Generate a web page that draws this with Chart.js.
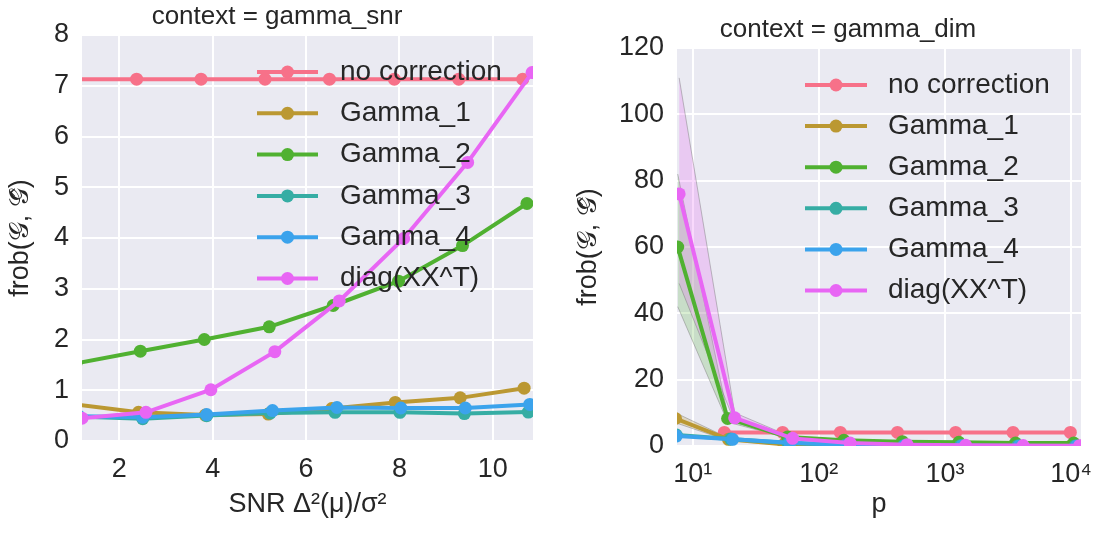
<!DOCTYPE html>
<html>
<head>
<meta charset="utf-8">
<script src="https://cdn.jsdelivr.net/npm/chart.js@4.4.1/dist/chart.umd.min.js"></script>
<style>
  html, body { margin: 0; padding: 0; background: #fff; overflow: hidden; width: 1095px; height: 533px; }
  .panel { position: absolute; top: 0; height: 533px; }
  #leftPanel { left: 0; width: 555px; }
  #rightPanel { left: 560px; width: 575px; }
</style>
</head>
<body>
<div class="panel" id="leftPanel"><canvas id="snrChart"></canvas></div>
<div class="panel" id="rightPanel"><canvas id="dimChart"></canvas></div>
<script>
const seriesNames = ['no correction', 'Gamma_1', 'Gamma_2', 'Gamma_3', 'Gamma_4', 'diag(XX^T)'];
const seriesColors = ['#f77189', '#bb9832', '#50b131', '#36ada4', '#3ba3ec', '#e866f4'];

// context = gamma_snr  (x = SNR, one row per series)
const snrX = [
  [1.00, 2.37, 3.75, 5.12, 6.50, 7.89, 9.27, 10.64],
  [1.05, 2.41, 3.84, 5.19, 6.55, 7.91, 9.30, 10.67],
  [1.07, 2.45, 3.82, 5.21, 6.58, 7.98, 9.35, 10.73],
  [1.12, 2.50, 3.87, 5.23, 6.62, 8.01, 9.39, 10.76],
  [1.13, 2.50, 3.87, 5.28, 6.66, 8.03, 9.41, 10.79],
  [1.20, 2.57, 3.96, 5.33, 6.71, 8.09, 9.46, 10.84]
];
const snrY = [
  [7.13, 7.13, 7.13, 7.13, 7.13, 7.13, 7.13, 7.13],
  [0.72, 0.565, 0.51, 0.53, 0.64, 0.76, 0.85, 1.04],
  [1.53, 1.77, 2.00, 2.25, 2.67, 3.15, 3.85, 4.68],
  [0.48, 0.44, 0.50, 0.55, 0.565, 0.565, 0.54, 0.57],
  [0.49, 0.47, 0.52, 0.60, 0.66, 0.65, 0.65, 0.72],
  [0.45, 0.565, 1.01, 1.76, 2.76, 3.99, 5.49, 7.26]
];
const snrTicksX = [2, 4, 6, 8, 10];
const snrTicksY = [0, 1, 2, 3, 4, 5, 6, 7, 8];

// context = gamma_dim  (x = p, log scale)
const dimX = [
  [17.8, 51.6, 148, 420, 1216, 3470, 9880],
  [7.3, 19.2, 53, 150, 430, 1240, 3500, 10000],
  [7.6, 18.9, 56.5, 158, 460, 1290, 3630, 10500],
  [7.4, 20.0, 57, 162, 470, 1330, 3780, 10800],
  [7.4, 20.7, 59, 168, 480, 1370, 3900, 11100],
  [7.8, 21.5, 61.9, 177, 501, 1460, 4170, 11700]
];
const dimY = [
  [4.1, 4.1, 4.1, 4.1, 4.1, 4.1, 4.1],
  [8.3, 2.0, 0.5, 0.2, 0.1, 0.05, 0.03, 0.02],
  [60, 8.3, 2.7, 1.7, 1.3, 1.1, 0.9, 0.9],
  [3.3, 2.1, 0.9, 0.3, 0.1, 0.05, 0.03, 0.02],
  [3.0, 2.0, 1.0, 0.3, 0.1, 0.05, 0.03, 0.02],
  [76, 8.5, 2.3, 0.9, 0.4, 0.2, 0.15, 0.1]
];
// confidence bands (only visible at small p)
const dimBandSeries = [5, 2, 1];
const dimBandLow = [
  [49, 7.2, 2.0],
  [42, 7.2, 2.4],
  [7.0, 1.6, 0.3]
];
const dimBandHigh = [
  [111, 10.0, 2.6],
  [82, 9.5, 3.0],
  [10.0, 2.4, 0.7]
];
const dimTicksX = [10, 100, 1000, 10000];
const dimTicksY = [0, 20, 40, 60, 80, 100, 120];

const FONT = "'Liberation Sans', Arial, sans-serif";
const TEXT = '#262626';
const bandFills = {
  5: 'rgba(232, 102, 244, 0.25)',
  2: 'rgba(80, 177, 49, 0.22)',
  1: 'rgba(187, 152, 50, 0.25)'
};

const plotBg = {
  id: 'plotBg',
  beforeDraw(chart) {
    const { ctx, chartArea: a } = chart;
    ctx.save();
    ctx.fillStyle = '#eaeaf2';
    ctx.fillRect(a.left, a.top, a.width, a.height);
    ctx.restore();
  }
};

// facet title, placed like the seaborn one (not centred on the canvas)
const panelTitle = {
  id: 'panelTitle',
  afterDraw(chart, args, opts) {
    const ctx = chart.ctx;
    ctx.save();
    ctx.fillStyle = TEXT;
    ctx.font = '26px ' + FONT;
    ctx.textAlign = 'center';
    ctx.textBaseline = 'middle';
    ctx.fillText(opts.text, opts.x, opts.y);
    ctx.restore();
  }
};

// legend drawn inside the plot, matplotlib style (line + marker handle)
const inlineLegend = {
  id: 'inlineLegend',
  afterDatasetsDraw(chart, args, opts) {
    const ctx = chart.ctx;
    ctx.save();
    let row = 0;
    chart.data.datasets.forEach(ds => {
      if (!ds.inLegend) return;
      const y = opts.top + row * opts.step;
      ctx.strokeStyle = ds.borderColor;
      ctx.lineWidth = 4;
      ctx.beginPath();
      ctx.moveTo(opts.x0, y);
      ctx.lineTo(opts.x1, y);
      ctx.stroke();
      ctx.fillStyle = ds.borderColor;
      ctx.beginPath();
      ctx.arc((opts.x0 + opts.x1) / 2, y, 6.5, 0, Math.PI * 2);
      ctx.fill();
      ctx.fillStyle = TEXT;
      ctx.font = '28px ' + FONT;
      ctx.textBaseline = 'middle';
      ctx.textAlign = 'left';
      ctx.fillText(ds.label, opts.textX, y);
      row++;
    });
    ctx.restore();
  }
};

function lineSets(xs, ys) {
  return seriesNames.map((name, i) => ({
    label: name,
    inLegend: true,
    data: xs[i].map((x, j) => ({ x: x, y: ys[i][j] })),
    borderColor: seriesColors[i],
    backgroundColor: seriesColors[i],
    borderWidth: 4,
    pointRadius: 6.5,
    pointHoverRadius: 6.5,
    pointBorderWidth: 0,
    fill: false,
    clip: 0,
    order: seriesNames.length - i
  }));
}

function bandSets() {
  const out = [];
  dimBandSeries.forEach((s, k) => {
    const xs = dimX[s].slice(0, 3);
    out.push({
      data: xs.map((x, j) => ({ x: x, y: dimBandLow[k][j] })),
      borderColor: 'rgba(120, 120, 120, 0.45)',
      borderWidth: 1, pointRadius: 0, fill: false, clip: 0, order: 20
    });
    out.push({
      data: xs.map((x, j) => ({ x: x, y: dimBandHigh[k][j] })),
      borderColor: 'rgba(120, 120, 120, 0.45)',
      backgroundColor: bandFills[s],
      borderWidth: 1, pointRadius: 0, fill: '-1', clip: 0, order: 20
    });
  });
  return out;
}

function axisTitle(text, pad) {
  return { display: true, text: text, color: TEXT, font: { family: FONT, size: 27 }, padding: pad };
}

function baseOptions(cfg) {
  return {
    responsive: true,
    maintainAspectRatio: false,
    animation: false,
    events: [],
    layout: { padding: { left: 0, right: cfg.padRight, top: cfg.padTop, bottom: 0 } },
    plugins: {
      legend: { display: false },
      tooltip: { enabled: false },
      title: { display: false },
      panelTitle: cfg.title,
      inlineLegend: cfg.legend
    },
    scales: {
      x: cfg.x,
      y: {
        type: 'linear',
        min: cfg.yTicks[0],
        max: cfg.yTicks[cfg.yTicks.length - 1],
        border: { display: false },
        grid: { color: '#ffffff', lineWidth: 2, drawTicks: false },
        ticks: { padding: 13, color: TEXT, font: { family: FONT, size: 27 } },
        afterBuildTicks(scale) { scale.ticks = cfg.yTicks.map(v => ({ value: v })); },
        title: axisTitle('frob(𝒢, 𝒢̂)', { top: cfg.yTitlePad, bottom: 0 }),
        afterFit(scale) { scale.width = cfg.yWidth; }
      }
    }
  };
}

new Chart(document.getElementById('snrChart'), {
  type: 'line',
  data: { datasets: lineSets(snrX, snrY) },
  options: baseOptions({
    title: { text: 'context = gamma_snr', x: 277, y: 17 },
    padTop: 35,
    padRight: 22,
    yTicks: snrTicksY,
    yWidth: 82,
    yTitlePad: 4,
    legend: { x0: 257, x1: 318, textX: 340, top: 72, step: 41.3 },
    x: {
      type: 'linear', min: 1.2, max: 10.86,
      border: { display: false },
      grid: { color: '#ffffff', lineWidth: 2, drawTicks: false },
      ticks: { padding: 12, color: TEXT, font: { family: FONT, size: 27 } },
      afterBuildTicks(scale) { scale.ticks = snrTicksX.map(v => ({ value: v })); },
      title: axisTitle('SNR Δ²(μ)/σ²', { top: 0, bottom: 12 }),
      afterFit(scale) { scale.height = 92; }
    }
  }),
  plugins: [plotBg, inlineLegend, panelTitle]
});

const sup = ['⁰', '¹', '²', '³', '⁴'];
new Chart(document.getElementById('dimChart'), {
  type: 'line',
  data: { datasets: bandSets().concat(lineSets(dimX, dimY)) },
  options: baseOptions({
    title: { text: 'context = gamma_dim', x: 288, y: 30 },
    padTop: 48,
    padRight: 54,
    yTicks: dimTicksY,
    yWidth: 117,
    yTitlePad: 12,
    legend: { x0: 245, x1: 307, textX: 328, top: 85, step: 41.1 },
    x: {
      type: 'logarithmic', min: 7.5, max: 12000,
      border: { display: false },
      grid: { color: '#ffffff', lineWidth: 2, drawTicks: false },
      ticks: {
        autoSkip: false, maxRotation: 0, padding: 12, color: TEXT, font: { family: FONT, size: 27 },
        callback: v => '10' + sup[Math.round(Math.log10(v))]
      },
      afterBuildTicks(scale) { scale.ticks = dimTicksX.map(v => ({ value: v })); },
      title: axisTitle('p', { top: 0, bottom: 12 }),
      afterFit(scale) { scale.height = 87; }
    }
  }),
  plugins: [plotBg, inlineLegend, panelTitle]
});
</script>
</body>
</html>
